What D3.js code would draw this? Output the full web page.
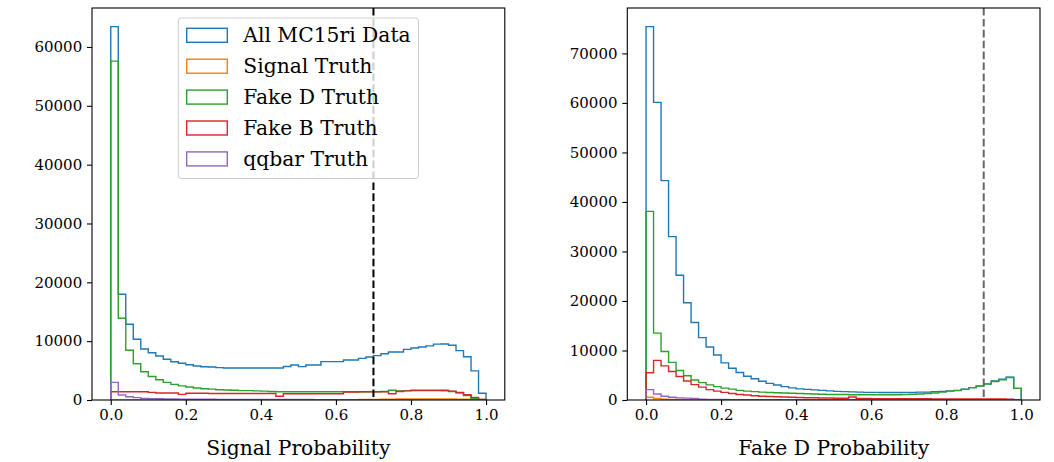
<!DOCTYPE html>
<html>
<head>
<meta charset="utf-8">
<script src="https://cdn.jsdelivr.net/npm/d3@7"></script>
<style>
  html, body { margin: 0; padding: 0; background: #fff; }
  svg { display: block; }
  text { font-family: "DejaVu Serif", serif; fill: #000; }
</style>
</head>
<body>
<svg id="chart" width="1054" height="462"></svg>
<script>
// ---------- data (50 bins of width 0.02 on [0, 1]) ----------
const nBins = 50;
const seriesNames = ["All MC15ri Data", "Signal Truth", "Fake D Truth", "Fake B Truth", "qqbar Truth"];
const seriesColors = ["#1f77b4", "#ff7f0e", "#2ca02c", "#d62728", "#9467bd"];

// Left panel: Signal Probability
const sigAll = [63450,17970,12870,10320,8670,8040,7480,6920,6510,6240,
                6000,5780,5650,5600,5500,5450,5450,5450,5450,5450,
                5450,5450,5450,5700,5950,5670,5950,5950,6520,6520,
                6520,6800,6800,7080,7300,7550,7850,8150,8150,8600,
                8850,9000,9200,9500,9520,9300,8400,7350,4950,1150];
const sigSignal = [0,0,0,0,0,0,0,0,0,0,
                   10,10,10,10,10,10,10,20,20,20,
                   20,20,30,30,30,40,40,50,50,60,
                   60,70,70,80,90,100,120,140,160,170,
                   180,180,190,190,180,170,150,120,70,20];
const sigFakeD = [57600,13900,8450,6150,4800,4000,3450,3000,2650,2400,
                  2200,2050,1900,1850,1750,1700,1650,1600,1600,1550,
                  1500,1450,1400,1400,1400,1400,1400,1400,1400,1400,
                  1400,1400,1400,1400,1400,1400,1450,1650,1550,1600,
                  1600,1600,1600,1600,1550,1450,1200,750,300,100];
const sigFakeB = [1400,1400,1400,1400,1400,1300,1200,1200,1200,950,
                  1150,1150,1150,1100,1100,1100,1100,1100,1100,1100,
                  1100,1100,650,1050,1050,1050,1050,1050,1050,1050,
                  1050,1350,1350,1400,1400,1400,1400,1050,1450,1550,
                  1650,1650,1650,1650,1650,1500,1300,900,450,100];
const sigQQ = [3000,850,550,400,280,230,200,180,160,150,
               140,130,120,120,110,110,100,100,100,90,
               90,90,80,80,80,80,80,70,70,70,
               60,50,40,30,30,20,20,20,15,15,
               10,10,10,10,5,5,5,5,0,0];

// Right panel: Fake D Probability
const fdAll = [75400,60100,44300,33000,25200,19650,15650,12600,10700,9100,
               7500,6400,5550,4800,4300,3800,3350,3030,2700,2450,
               2250,2150,2050,1950,1850,1750,1700,1650,1600,1550,
               1550,1500,1500,1500,1550,1550,1600,1600,1700,1750,
               1850,1950,2200,2500,2850,3250,3850,4200,4600,2350];
const fdSignal = [550,300,150,130,110,60,40,30,20,20,
                  10,10,10,10,0,0,0,0,0,0,
                  0,0,0,0,0,0,0,0,0,0,
                  0,0,0,0,0,0,0,0,0,0,
                  0,0,0,0,0,0,0,0,0,0];
const fdFakeD = [38100,13500,9800,7600,5950,4900,4050,3500,3050,2700,
                 2400,2200,1950,1800,1700,1600,1500,1450,1400,1350,
                 1300,1250,1200,1150,1100,1100,1100,1050,1050,1050,
                 1050,1050,1050,1050,1100,1150,1200,1300,1400,1600,
                 1800,1900,2150,2500,2800,3200,3750,4100,4550,2350];
const fdFakeB = [5500,8000,6900,5750,4750,3850,3100,2600,2100,1800,
                 1550,1300,1100,1000,850,750,700,650,600,550,
                 500,450,450,400,400,350,350,600,300,300,
                 280,280,260,260,250,250,240,240,230,230,
                 220,220,210,210,200,200,200,200,180,0];
const fdQQ = [2100,1200,750,550,420,380,320,150,120,100,
              90,80,70,60,50,50,40,40,30,30,
              20,20,20,10,10,10,10,0,0,0,
              0,0,0,0,0,0,0,0,0,0,
              0,0,0,0,0,0,0,0,0,0];

const xTicks = [0.0, 0.2, 0.4, 0.6, 0.8, 1.0];
const sigYTicks = [0, 10000, 20000, 30000, 40000, 50000, 60000];
const fdYTicks = [0, 10000, 20000, 30000, 40000, 50000, 60000, 70000];
const sigCut = 0.7;
const fdCut = 0.9;

// ---------- drawing ----------
const svg = d3.select("#chart");
const plotTop = 8, plotBottom = 400;
const tickFont = 15, labelFont = 20.3;

function drawPanel(opts) {
  const g = svg.append("g");
  const x = d3.scaleLinear().domain([-0.05, 1.05]).range([opts.x0, opts.x1]);
  const ymax = d3.max(opts.series.flat()) * 1.05;
  const y = d3.scaleLinear().domain([0, ymax]).range([plotBottom, plotTop]);

  const binW = 1 / nBins;
  const stepLine = vals => {
    const pts = [[0, 0]];
    vals.forEach((v, i) => { pts.push([i * binW, v]); pts.push([(i + 1) * binW, v]); });
    pts.push([1, 0]);
    return d3.line().x(d => x(d[0])).y(d => y(d[1]))(pts);
  };

  const clipId = "clip" + Math.round(opts.x0);
  svg.append("clipPath").attr("id", clipId).append("rect")
    .attr("x", opts.x0).attr("y", plotTop).attr("width", opts.x1 - opts.x0).attr("height", plotBottom - plotTop);

  const plot = g.append("g").attr("clip-path", `url(#${clipId})`);
  opts.series.forEach((vals, i) => {
    plot.append("path").attr("d", stepLine(vals))
      .attr("fill", "none").attr("stroke", seriesColors[i])
      .attr("stroke-width", 1.4).attr("stroke-linejoin", "miter");
  });

  // cut line
  g.append("line")
    .attr("x1", x(opts.cut)).attr("x2", x(opts.cut))
    .attr("y1", plotTop).attr("y2", plotBottom)
    .attr("stroke", opts.cutColor).attr("stroke-width", 2)
    .attr("stroke-dasharray", "7.6,3.3");

  // axes
  const xAxis = d3.axisBottom(x).tickValues(xTicks).tickFormat(d3.format(".1f"))
    .tickSizeInner(5).tickSizeOuter(0).tickPadding(4.4);
  const yAxis = d3.axisLeft(y).tickValues(opts.yTicks).tickFormat(d3.format("d"))
    .tickSizeInner(5).tickSizeOuter(0).tickPadding(4.8);
  const gx = g.append("g").attr("transform", `translate(0,${plotBottom})`).call(xAxis);
  const gy = g.append("g").attr("transform", `translate(${opts.x0},0)`).call(yAxis);
  [gx, gy].forEach(a => {
    a.select(".domain").remove();
    a.selectAll(".tick line").attr("stroke", "#000").attr("stroke-width", 1.1);
    a.selectAll("text").attr("font-family", "DejaVu Serif").attr("font-size", tickFont).attr("fill", "#000");
  });

  // frame
  g.append("rect").attr("x", opts.x0).attr("y", plotTop)
    .attr("width", opts.x1 - opts.x0).attr("height", plotBottom - plotTop)
    .attr("fill", "none").attr("stroke", "#000").attr("stroke-width", 1.1);

  // x label
  g.append("text").attr("x", (opts.x0 + opts.x1) / 2).attr("y", 455)
    .attr("text-anchor", "middle").attr("font-size", labelFont).text(opts.xlabel);
  return g;
}

drawPanel({
  x0: 92, x1: 504.8, xlabel: "Signal Probability",
  series: [sigAll, sigSignal, sigFakeD, sigFakeB, sigQQ],
  yTicks: sigYTicks, cut: sigCut, cutColor: "#000"
});
drawPanel({
  x0: 627.3, x1: 1040, xlabel: "Fake D Probability",
  series: [fdAll, fdSignal, fdFakeD, fdFakeB, fdQQ],
  yTicks: fdYTicks, cut: fdCut, cutColor: "#666"
});

// legend (left panel)
const leg = svg.append("g");
leg.append("rect").attr("x", 178.3).attr("y", 18).attr("width", 240.2).attr("height", 160.5)
  .attr("rx", 3).attr("ry", 3)
  .attr("fill", "#fff").attr("fill-opacity", 0.8)
  .attr("stroke", "#cccccc").attr("stroke-width", 1);
seriesNames.forEach((name, i) => {
  const cy = 35.3 + i * 30.9;
  leg.append("rect").attr("x", 186.7).attr("y", cy - 7).attr("width", 40.6).attr("height", 14)
    .attr("fill", "none").attr("stroke", seriesColors[i]).attr("stroke-width", 1.4);
  leg.append("text").attr("x", 243.3).attr("y", cy).attr("dy", "0.35em")
    .attr("font-size", labelFont).text(name);
});
</script>
</body>
</html>
